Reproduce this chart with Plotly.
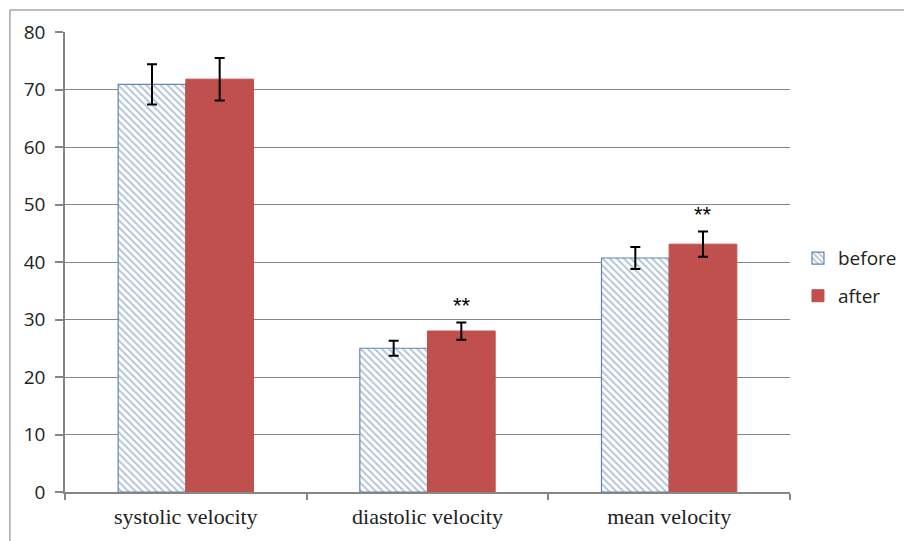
import plotly.graph_objects as go

categories = ["systolic velocity", "diastolic velocity", "mean velocity"]
before_vals = [70.9, 25.0, 40.7]
before_err = [3.5, 1.3, 1.9]
after_vals = [71.8, 28.0, 43.1]
after_err = [3.7, 1.5, 2.2]
sig_labels = ["", "**", "**"]
y_ticks = [0, 10, 20, 30, 40, 50, 60, 70, 80]

fig = go.Figure()
fig.add_trace(go.Bar(
    x=categories, y=before_vals, name="before", legendgroup="b",
    marker=dict(color="white", line=dict(color="#5F86B5", width=1.2),
                pattern=dict(shape="\\", fgcolor="#6A88AD", bgcolor="white", size=5, solidity=0.4)),
    error_y=dict(type="data", array=before_err, color="black", thickness=2, width=5),
))
fig.add_trace(go.Bar(
    x=categories, y=after_vals, name="after", legendgroup="a",
    marker=dict(color="#C0504D", line=dict(color="#C0504D", width=1)),
    error_y=dict(type="data", array=after_err, color="black", thickness=2, width=5),
))

for c, v, e, s in zip(categories, after_vals, after_err, sig_labels):
    if s:
        fig.add_annotation(x=c, y=v + e + 2.9, text=s, showarrow=False, xshift=34,
                           font=dict(family="Liberation Sans", size=22, color="black"),
                           yanchor="middle")

# outer frame (left and top edges)
fig.add_shape(type="line", xref="paper", yref="paper", x0=-0.076, x1=1.2, y0=1.048, y1=1.048,
              line=dict(color="#A6A6A6", width=1.5))
fig.add_shape(type="line", xref="paper", yref="paper", x0=-0.076, x1=-0.076, y0=1.048, y1=-0.2,
              line=dict(color="#A6A6A6", width=1.5))

fig.update_layout(
    width=912, height=541,
    margin=dict(l=57, r=130, t=24, b=57),
    paper_bgcolor="white", plot_bgcolor="white",
    barmode="group", bargap=0.44, bargroupgap=0,
    showlegend=True,
    legend=dict(x=1.011, y=0.467, xanchor="left", yanchor="middle", tracegroupgap=10,
                font=dict(family="Open Sans", size=19, color="#222"),
                itemwidth=30),
    xaxis=dict(showline=True, linecolor="#868686", linewidth=1.5, ticks="outside",
               tickson="boundaries", ticklen=6, tickcolor="#868686", tickwidth=1.5,
               tickfont=dict(family="Liberation Serif", size=22, color="#222"),
               ticklabelstandoff=4, showgrid=False),
    yaxis=dict(range=[0, 80], tickvals=y_ticks, showline=True, linecolor="#868686", linewidth=1.5,
               ticks="outside", ticklen=8, tickcolor="#868686", tickwidth=1.5,
               gridcolor="#868686", gridwidth=1.2,
               tickfont=dict(family="Open Sans", size=19, color="#222"),
               ticklabelstandoff=6, zeroline=False),
)

fig.write_html("out.html")
